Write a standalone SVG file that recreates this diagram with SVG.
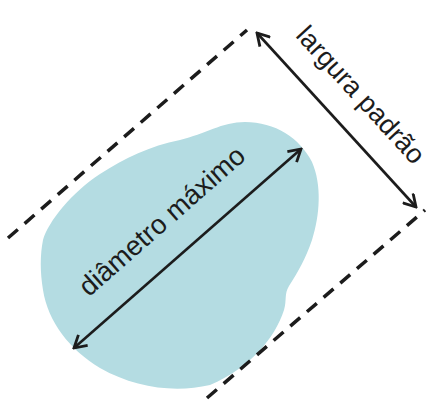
<svg xmlns="http://www.w3.org/2000/svg" width="434" height="400" viewBox="0 0 434 400">
<style>
.dash{stroke:#1c1c1c;stroke-width:3.5;stroke-dasharray:13 9;fill:none}
.arr{stroke:#1c1c1c;stroke-width:2.6;fill:none;marker-start:url(#head);marker-end:url(#head)}
.lbl{font-family:"Liberation Sans",Arial,sans-serif;font-size:27.5px;fill:#1c1c1c;text-anchor:middle}
</style>
<defs>
<marker id="head" viewBox="-14 -8 16 16" markerWidth="16" markerHeight="16" refX="0" refY="0" orient="auto-start-reverse" markerUnits="userSpaceOnUse">
<path d="M-12,-7 L0,0 L-12,7" fill="none" stroke="#1c1c1c" stroke-width="2.8" stroke-linejoin="miter"/>
</marker>
</defs>
<rect width="434" height="400" fill="#ffffff"/>
<g id="blob">
<path d="M43,240 C48,222 72,192 100,174 C125,158 150,146 180,140 C205,134 222,122 245,122 C275,122 300,138 312,162 C322,185 320,215 312,240 C306,258 298,272 289,286 C284,294 287,300 284,310 C275,338 250,368 210,385 C175,393 135,388 100,368 C70,350 48,322 43,290 C40,272 40,255 43,240 Z" fill="#b4dce2"/>
</g>
<g id="guides">
<line class="dash" x1="8" y1="238" x2="247" y2="30"/>
<line class="dash" x1="207" y1="398" x2="425" y2="210"/>
</g>
<g id="connectors">
<line class="arr" x1="74" y1="348" x2="301" y2="149"/>
<line class="arr" x1="257" y1="33" x2="416" y2="207"/>
</g>
<g id="label-diametro">
<text class="lbl" transform="translate(168,228) rotate(-41.3)">diâmetro máximo</text>
</g>
<g id="label-largura">
<text class="lbl" transform="translate(354,101) rotate(47.5)" style="font-size:27px">largura padrão</text>
</g>
</svg>
